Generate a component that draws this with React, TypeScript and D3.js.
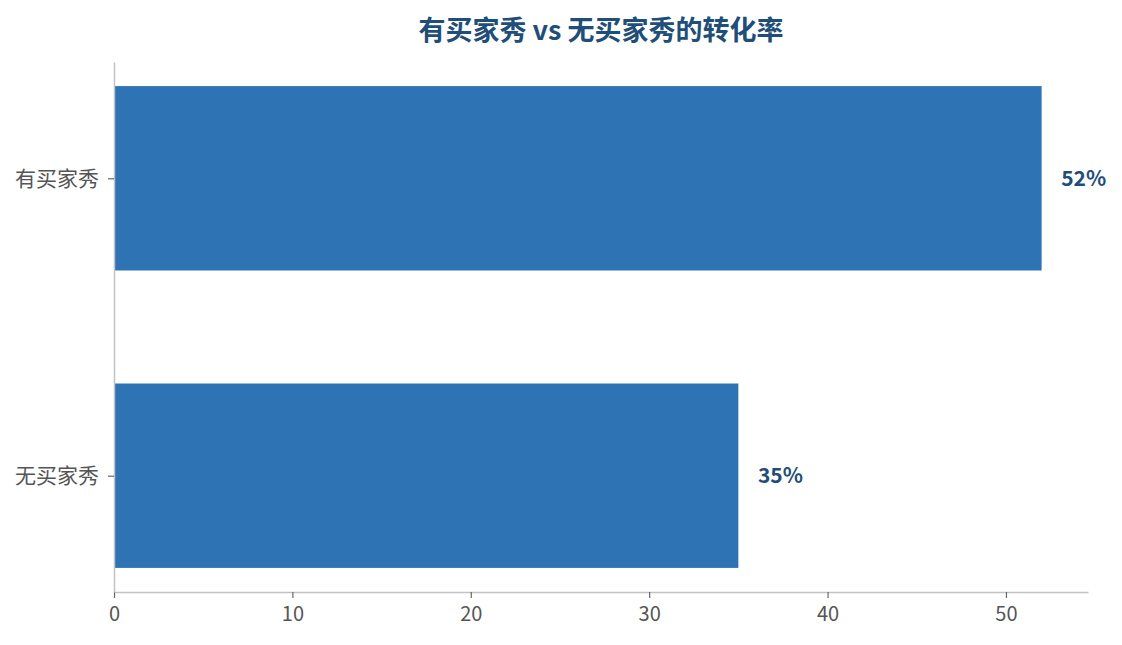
import { useEffect, useRef } from 'react';
import * as d3 from 'd3';

// chart data
const categories = ['有买家秀', '无买家秀'];
const rates = [52, 35];
const xTicks = [0, 10, 20, 30, 40, 50];

const WIDTH = 1122;
const HEIGHT = 645;
const MARGIN = { top: 62, right: 34, bottom: 53, left: 114 };
const FONT = '"Noto Sans CJK SC", "Noto Sans", sans-serif';
const BAR_HEIGHT = 0.62;

export default function App() {
	const ref = useRef<SVGSVGElement>(null);

	useEffect(() => {
		const svg = d3.select(ref.current);
		svg.selectAll('*').remove();

		const innerW = WIDTH - MARGIN.left - MARGIN.right;
		const innerH = HEIGHT - MARGIN.top - MARGIN.bottom;

		const xMax = d3.max(rates)! * 1.05;
		const x = d3.scaleLinear().domain([0, xMax]).range([0, innerW]);

		// categorical positions, first category on top
		const span = 1 + BAR_HEIGHT;
		const pad = span * 0.05;
		const y = d3
			.scaleLinear()
			.domain([-BAR_HEIGHT / 2 - pad, categories.length - 1 + BAR_HEIGHT / 2 + pad])
			.range([0, innerH]);

		const g = svg.append('g').attr('transform', `translate(${MARGIN.left},${MARGIN.top})`);

		g.selectAll('rect.bar')
			.data(rates)
			.join('rect')
			.attr('class', 'bar')
			.attr('x', x(0))
			.attr('y', (_, i) => y(i - BAR_HEIGHT / 2))
			.attr('width', (d) => x(d) - x(0))
			.attr('height', y(BAR_HEIGHT) - y(0))
			.attr('fill', '#2e73b3');

		g.selectAll('text.val')
			.data(rates)
			.join('text')
			.attr('class', 'val')
			.attr('x', (d) => x(d + 1.1))
			.attr('y', (_, i) => y(i))
			.attr('dy', '0.35em')
			.attr('font-family', FONT)
			.attr('font-size', 21)
			.attr('font-weight', 'bold')
			.attr('fill', '#1f4e79')
			.text((d) => `${d}%`);

		// x axis
		const xAxis = g
			.append('g')
			.attr('transform', `translate(0,${innerH})`)
			.call(d3.axisBottom(x).tickValues(xTicks).tickSize(6).tickPadding(9).tickSizeOuter(0));
		xAxis.select('.domain').attr('stroke', '#c2c2c2').attr('stroke-width', 1.5);
		xAxis.selectAll('.tick line').attr('stroke', '#666').attr('stroke-width', 1.2);
		xAxis
			.selectAll('.tick text')
			.attr('font-family', FONT)
			.attr('font-size', 20)
			.attr('fill', '#555');

		// y axis
		const yAxis = g
			.append('g')
			.call(
				d3
					.axisLeft(y)
					.tickValues(categories.map((_, i) => i))
					.tickFormat((d) => categories[d as number])
					.tickSize(6)
					.tickPadding(9)
					.tickSizeOuter(0)
			);
		yAxis.select('.domain').attr('stroke', '#c2c2c2').attr('stroke-width', 1.5);
		yAxis.selectAll('.tick line').attr('stroke', '#666').attr('stroke-width', 1.2);
		yAxis
			.selectAll('.tick text')
			.attr('font-family', FONT)
			.attr('font-size', 21)
			.attr('fill', '#555');

		// title
		svg.append('text')
			.attr('x', MARGIN.left + innerW / 2)
			.attr('y', 40)
			.attr('text-anchor', 'middle')
			.attr('font-family', FONT)
			.attr('font-size', 27)
			.attr('font-weight', 'bold')
			.attr('fill', '#1f4e79')
			.text('有买家秀 vs 无买家秀的转化率');
	}, []);

	return (
		<div style={{ position: 'absolute', left: 0, top: 0 }}>
			<svg ref={ref} width={WIDTH} height={HEIGHT} style={{ display: 'block', background: '#fff' }} />
		</div>
	);
}
